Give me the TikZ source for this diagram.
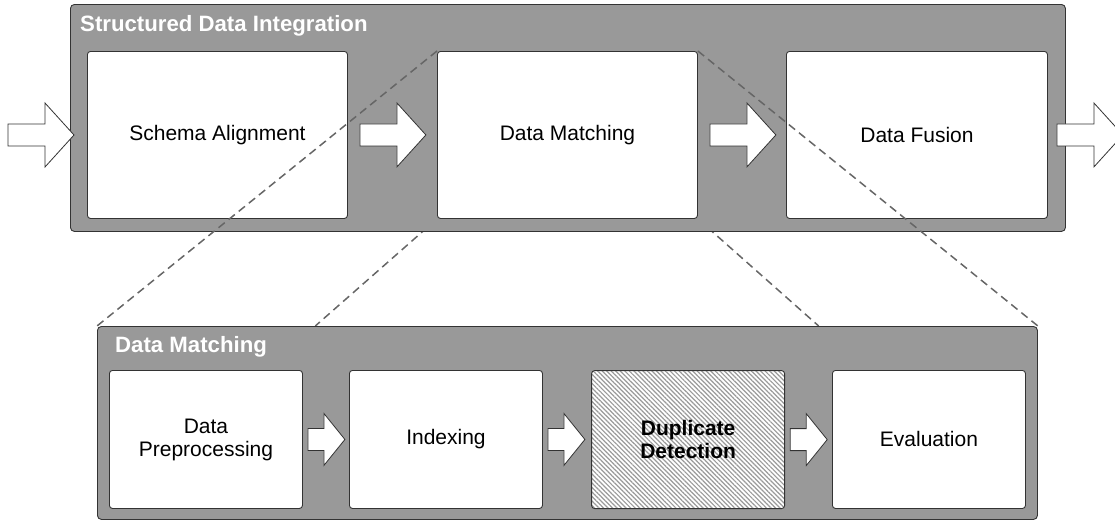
\documentclass[tikz,border=0pt]{standalone}
\usepackage{fontspec}
\setmainfont{Liberation Sans}
\usetikzlibrary{calc,patterns.meta}

\definecolor{panel}{HTML}{999999}
\definecolor{edge}{HTML}{333333}
\definecolor{dashc}{HTML}{666666}
\definecolor{hatch}{HTML}{9A9A9A}

\pgfdeclarelayer{back}
\pgfsetlayers{back,main}

\tikzset{
  panelbox/.style={draw=edge, fill=panel, line width=0.9pt, rounded corners=4pt,
    anchor=north west, inner sep=0pt},
  stagebox/.style={draw=edge, fill=white, line width=0.9pt, rounded corners=3pt,
    anchor=north west, align=center, text=black,
    font=\fontsize{21}{23}\selectfont},
  focusbox/.style={stagebox, font=\bfseries\fontsize{21}{23}\selectfont,
    preaction={fill=white},
    pattern={Lines[angle=-45, distance=3.2pt, line width=1.2pt]},
    pattern color=hatch},
  paneltitle/.style={anchor=base west, text=white, inner sep=0pt,
    font=\bfseries\fontsize{22.2}{26}\selectfont},
  zoomline/.style={draw=dashc, line width=1.5pt, dash pattern=on 8pt off 5pt},
  blockarrow/.style={draw=edge, fill=white, line width=0.8pt, line join=miter},
}

% wide block arrow starting at the given coordinate (tail centre)
\newcommand\widearrow[1]{%
  \draw[blockarrow] (#1) ++(0,-11) -- ++(37,0) -- ++(0,-21) -- ++(29,32)
    -- ++(-29,32) -- ++(0,-21) -- ++(-37,0) -- cycle;}
% short block arrow for the inner pipeline
\newcommand\shortarrow[1]{%
  \draw[blockarrow] (#1) ++(0,-11) -- ++(16,0) -- ++(0,-15) -- ++(21,26)
    -- ++(-21,26) -- ++(0,-15) -- ++(-16,0) -- cycle;}

\begin{document}
\begin{tikzpicture}[x=1pt, y=-1pt]
  \useasboundingbox (0,0) rectangle (1115,520);

  % ---- overall pipeline ----
  \node[panelbox, minimum width=995pt, minimum height=227pt] (sdi) at (70,4) {};
  \node[paneltitle] (sdititle) at (80,31.5) {Structured Data Integration};

  \node[stagebox, minimum width=260pt, minimum height=167pt] (sa) at (87,51) {Schema Alignment};
  \node[stagebox, minimum width=260pt, minimum height=167pt] (dm) at (437,51) {Data Matching};
  \node[stagebox, minimum width=261pt, minimum height=167pt] (df) at (786,51) {Data Fusion};

  \coordinate (src) at (8,135);
  \coordinate (a1) at ($(sa.east)+(12,0)$);
  \coordinate (a2) at ($(dm.east)+(12,0)$);
  \coordinate (out) at ($(df.east)+(9,0)$);
  \widearrow{src}
  \widearrow{a1}
  \widearrow{a2}
  \widearrow{out}

  % ---- data matching detail ----
  \node[panelbox, minimum width=940pt, minimum height=193pt] (mbox) at (97,326) {};
  \node[paneltitle] (mtitle) at (115,352) {Data Matching};

  \node[stagebox, minimum width=193pt, minimum height=138pt] (dp) at (109,370) {Data\\Preprocessing};
  \node[stagebox, minimum width=193pt, minimum height=138pt] (ix) at (349,370) {Indexing};
  \node[focusbox, minimum width=193pt, minimum height=138pt] (dd) at (591,370) {Duplicate\\Detection};
  \node[stagebox, minimum width=193pt, minimum height=138pt] (ev) at (832,370) {Evaluation};

  \coordinate (b1) at ($(dp.east)+(5,0)$);
  \coordinate (b2) at ($(ix.east)+(5,0)$);
  \coordinate (b3) at ($(dd.east)+(5,0)$);
  \shortarrow{b1}
  \shortarrow{b2}
  \shortarrow{b3}

  % ---- zoom guides ----
  \draw[zoomline] (dm.north west) -- (mbox.north west);
  \draw[zoomline] (dm.north east) -- (mbox.north east);
  \coordinate (zl) at ($(mbox.north west)!0.232!(mbox.north east)$);
  \coordinate (zr) at ($(mbox.north west)!0.767!(mbox.north east)$);
  \begin{pgfonlayer}{back}
    \draw[zoomline] (dm.south west) -- (zl);
    \draw[zoomline] (dm.south east) -- (zr);
  \end{pgfonlayer}
\end{tikzpicture}
\end{document}
